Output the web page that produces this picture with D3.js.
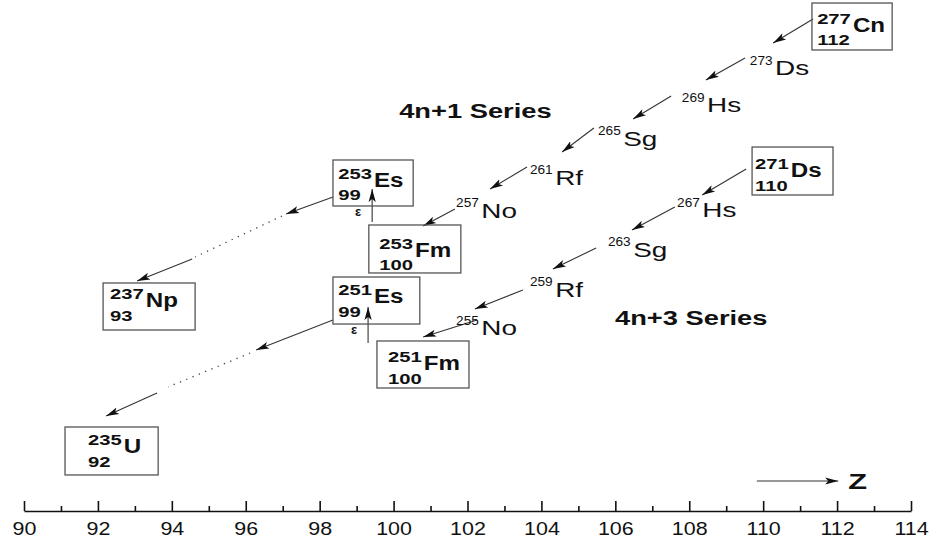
<!DOCTYPE html>
<html>
<head>
<meta charset="utf-8">
<style>
body{ margin:0; background:#fff; }
svg{ display:block; font-family:"Liberation Sans", Arial, sans-serif; }
.decay{ stroke:#333; stroke-width:1.1; fill:none; }
.dotted{ stroke:#444; stroke-width:1.3; stroke-dasharray:1.3,5.5; fill:none; }
.box{ fill:none; stroke:#555; stroke-width:1.3; }
.axis path, .axis line{ stroke:#111; stroke-width:1.6; }
</style>
<title>Decay chains</title>
</head>
<body>
<svg width="930" height="547"></svg>
<script src="https://d3js.org/d3.v7.min.js"></script>
<script>
// Z axis
var majorTicks = d3.range(90, 115, 2);
var minorTicks = d3.range(91, 114, 2);

// nuclides drawn in a box: label anchor (lx, ly) and box corners, in Z / level units
var boxed = [
  {A:277, sym:"Cn", Z:112, lx:111.46, ly:9.374, box:[111.32, 113.49, 9.941, 9.022]},
  {A:253, sym:"Es", Z:99,  lx:98.50,  ly:6.341, box:[98.36, 100.53, 6.869, 5.969]},
  {A:253, sym:"Fm", Z:100, lx:99.61,  ly:4.971, box:[99.33, 101.82, 5.597, 4.658]},
  {A:237, sym:"Np", Z:93,  lx:92.33,  ly:3.992, box:[92.14, 94.63, 4.462, 3.542]},
  {A:235, sym:"U",  Z:92,  lx:91.73,  ly:1.135, box:[91.11, 93.63, 1.644, 0.705]},
  {A:251, sym:"Es", Z:99,  lx:98.50,  ly:4.070, box:[98.36, 100.71, 4.579, 3.659]},
  {A:251, sym:"Fm", Z:100, lx:99.85,  ly:2.759, box:[99.55, 102.04, 3.327, 2.407]},
  {A:271, sym:"Ds", Z:110, lx:109.78, ly:6.536, box:[109.70, 111.89, 7.123, 6.184]}
];

// intermediate nuclides (plain labels)
var plain = [
  {A:273, sym:"Ds", lx:109.64, ly:8.532},
  {A:269, sym:"Hs", lx:107.80, ly:7.808},
  {A:265, sym:"Sg", lx:105.53, ly:7.143},
  {A:261, sym:"Rf", lx:103.69, ly:6.380},
  {A:257, sym:"No", lx:101.69, ly:5.734},
  {A:267, sym:"Hs", lx:107.67, ly:5.753},
  {A:263, sym:"Sg", lx:105.80, ly:4.971},
  {A:259, sym:"Rf", lx:103.69, ly:4.188},
  {A:255, sym:"No", lx:101.69, ly:3.444}
];

// decay arrows [x0, y0, x1, y1]
var arrows = [
  [111.35, 9.628, 110.27, 9.158],
  [109.51, 8.865, 108.45, 8.434],
  [107.51, 8.121, 106.48, 7.671],
  [105.42, 7.495, 104.56, 7.025],
  [103.61, 6.732, 102.61, 6.301],
  [101.66, 5.910, 100.80, 5.577],
  [98.36, 6.145, 97.09, 5.812],
  [94.55, 4.931, 93.06, 4.501],
  [109.54, 6.693, 108.35, 6.184],
  [107.61, 5.949, 106.45, 5.499],
  [105.48, 5.147, 104.31, 4.736],
  [103.50, 4.325, 102.20, 3.953],
  [102.26, 3.738, 100.80, 3.405],
  [98.36, 3.738, 96.28, 3.151],
  [93.60, 2.309, 92.22, 1.859],
  [109.83, 0.587, 112.03, 0.587]
];

// electron capture arrows (labelled epsilon)
var captures = [
  [99.42, 5.655, 99.42, 6.301],
  [99.31, 3.288, 99.31, 3.992]
];

// long gaps in the chains
var gaps = [
  [96.98, 5.773, 94.63, 4.971],
  [96.12, 3.092, 93.90, 2.427]
];

var seriesNames = ["4n+1 Series", "4n+3 Series"];
var seriesPos = [[100.15, 7.691], [105.99, 3.640]];

var svg = d3.select("svg"),
    width = +svg.attr("width"),
    height = +svg.attr("height");

var x = d3.scaleLinear().domain([90, 114]).range([24, 911]);
var y = d3.scaleLinear().domain([0, 10]).range([511, 0]);

svg.append("defs").append("marker")
    .attr("id", "head")
    .attr("markerUnits", "userSpaceOnUse")
    .attr("viewBox", "0 -5 14 10")
    .attr("refX", 13)
    .attr("refY", 0)
    .attr("markerWidth", 14)
    .attr("markerHeight", 10)
    .attr("orient", "auto")
  .append("path")
    .attr("d", "M0,-3.6L13,0L0,3.6L3,0Z")
    .attr("fill", "#111");

// axis: major ticks with labels, minor ticks without
var axisG = svg.append("g")
    .attr("class", "axis")
    .attr("transform", "translate(0," + y(0) + ")");

axisG.call(d3.axisBottom(x)
        .tickValues(majorTicks)
        .tickSizeInner(-10)
        .tickSizeOuter(0)
        .tickPadding(11))
    .selectAll("text")
        .attr("font-size", 19)
        .attr("font-family", "Liberation Sans, Arial, sans-serif")
        .attr("fill", "#111")
        .attr("transform", "scale(1.13,1)");

svg.append("g")
    .attr("class", "axis")
    .attr("transform", "translate(0," + y(0) + ")")
    .call(d3.axisBottom(x).tickValues(minorTicks).tickSizeInner(-5).tickSizeOuter(0).tickFormat(""))
    .select(".domain").remove();

// arrows
svg.append("g").selectAll("line")
    .data(arrows.concat(captures))
    .enter().append("line")
    .attr("class", "decay")
    .attr("x1", function(d){ return x(d[0]); })
    .attr("y1", function(d){ return y(d[1]); })
    .attr("x2", function(d){ return x(d[2]); })
    .attr("y2", function(d){ return y(d[3]); })
    .attr("marker-end", "url(#head)");

svg.append("g").selectAll("line")
    .data(gaps)
    .enter().append("line")
    .attr("class", "dotted")
    .attr("x1", function(d){ return x(d[0]); })
    .attr("y1", function(d){ return y(d[1]); })
    .attr("x2", function(d){ return x(d[2]); })
    .attr("y2", function(d){ return y(d[3]); });

svg.append("g").selectAll("text")
    .data(captures)
    .enter().append("text")
    .attr("x", function(d){ return x(d[0]) - 14; })
    .attr("y", function(d){ return y(d[3]) + 27; })
    .attr("text-anchor", "middle")
    .attr("font-size", 13)
    .attr("font-weight", "bold")
    .attr("fill", "#111")
    .text("ε");

// boxes
svg.append("g").selectAll("rect")
    .data(boxed)
    .enter().append("rect")
    .attr("class", "box")
    .attr("x", function(d){ return x(d.box[0]); })
    .attr("y", function(d){ return y(d.box[2]); })
    .attr("width", function(d){ return x(d.box[1]) - x(d.box[0]); })
    .attr("height", function(d){ return y(d.box[3]) - y(d.box[2]); });

function nuclideLabel(d, st) {
  var g = svg.append("g")
      .attr("transform", "translate(" + x(d.lx) + "," + y(d.ly) + ")")
      .attr("fill", "#111");
  var m = g.append("text")
      .attr("font-size", st.mSize)
      .attr("font-weight", st.weight)
      .attr("transform", "translate(0," + st.mDy + ") scale(" + st.mSx + ",1)")
      .text(d.A);
  var w = m.node().getComputedTextLength() * st.mSx;
  g.append("text")
      .attr("font-size", st.sSize)
      .attr("font-weight", st.weight)
      .attr("transform", "translate(" + (w + st.gap) + ",0) scale(" + st.sSx + ",1)")
      .text(d.sym);
  if (d.Z) {
    g.append("text")
        .attr("font-size", st.mSize)
        .attr("font-weight", st.weight)
        .attr("transform", "translate(0," + st.zDy + ") scale(" + st.mSx + ",1)")
        .text(d.Z);
  }
}

boxed.forEach(function(d){
  nuclideLabel(d, {mSize:15, mSx:1.35, mDy:-8, sSize:21, sSx:1.15, gap:2, weight:"bold", zDy:13.5});
});
plain.forEach(function(d){
  nuclideLabel(d, {mSize:13, mSx:1.05, mDy:-10.5, sSize:21, sSx:1.33, gap:2.5, weight:"normal"});
});

// series titles
svg.append("g").selectAll("text")
    .data(seriesNames)
    .enter().append("text")
    .attr("transform", function(d, i){
      return "translate(" + x(seriesPos[i][0]) + "," + y(seriesPos[i][1]) + ") scale(1.4,1)";
    })
    .attr("font-size", 19.5)
    .attr("font-weight", "bold")
    .attr("fill", "#111")
    .text(function(d){ return d; });

// Z label next to the direction arrow
svg.append("text")
    .attr("transform", "translate(" + x(112.30) + "," + y(0.431) + ") scale(1.4,1)")
    .attr("font-size", 22)
    .attr("font-weight", "bold")
    .attr("fill", "#111")
    .text("Z");
</script>
</body>
</html>
